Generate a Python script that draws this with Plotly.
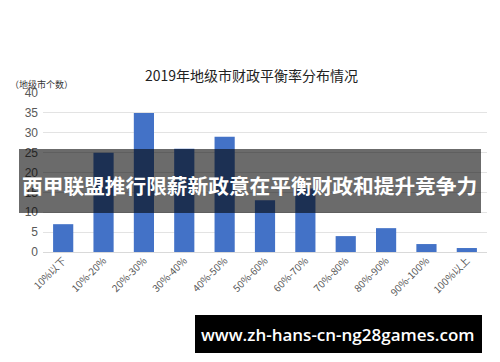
import plotly.graph_objects as go

categories = ["10%以下", "10%-20%", "20%-30%", "30%-40%", "40%-50%", "50%-60%",
              "60%-70%", "70%-80%", "80%-90%", "90%-100%", "100%以上"]
counts = [7, 25, 35, 26, 29, 13, 16, 4, 6, 2, 1]
y_ticks = [0, 5, 10, 15, 20, 25, 30, 35, 40]

title_text = "2019年地级市财政平衡率分布情况"
y_label = "（地级市个数）"
overlay_text = "西甲联盟推行限薪新政意在平衡财政和提升竞争力"
footer_text = "www.zh-hans-cn-ng28games.com"

# page body has an 8px margin; work in reference pixels and shift
OFF = 8
W, H = 500 - OFF, 362 - OFF
L, R, T, B = 43 - OFF, 13, 93 - OFF, 110
PW, PH = W - L - R, H - T - B

def px(x):
    return (x - OFF - L) / PW

def py(y):
    return (H - B - (y - OFF)) / PH

fig = go.Figure(go.Bar(
    x=categories, y=counts,
    marker=dict(color="#4372c7", line=dict(width=0)),
))

fig.update_layout(
    width=W, height=H,
    margin=dict(l=L, r=R, t=T, b=B, autoexpand=False),
    paper_bgcolor="white", plot_bgcolor="white",
    bargap=0.5, showlegend=False,
    font=dict(family="Noto Sans CJK SC, sans-serif"),
    xaxis=dict(tickangle=-45, tickfont=dict(size=10, color="#595959",
               family="Noto Sans CJK SC"), showgrid=False, showline=False,
               ticks="", automargin=False),
    yaxis=dict(range=[0, 40], tickvals=y_ticks, showgrid=True,
               gridcolor="#e3e3e3", gridwidth=1, zeroline=True,
               zerolinecolor="#d9d9d9", zerolinewidth=1,
               tickfont=dict(size=12, color="#595959",
                             family="Liberation Sans, Arial"), ticks="",
               ticklabelstandoff=4, automargin=False),
    shapes=[
        dict(type="rect", xref="paper", yref="paper",
             x0=px(19), x1=px(481), y0=py(213), y1=py(149),
             fillcolor="rgba(0,0,0,0.58)", line=dict(width=0), layer="above"),
        dict(type="rect", xref="paper", yref="paper",
             x0=px(195), x1=px(482), y0=py(353), y1=py(315),
             fillcolor="black", line=dict(width=0), layer="above"),
    ],
    annotations=[
        dict(text=title_text, xref="paper", yref="paper", x=px(251), y=py(75),
             showarrow=False, font=dict(size=14, color="#222222",
             family="Noto Sans CJK SC"), xanchor="center", yanchor="middle"),
        dict(text=y_label, xref="paper", yref="paper", x=px(8), y=py(84),
             showarrow=False, font=dict(size=9, color="#333333",
             family="Noto Sans CJK SC"), xanchor="left", yanchor="middle"),
        dict(text="<b>" + overlay_text + "</b>", xref="paper", yref="paper",
             x=px(249), y=py(185), showarrow=False,
             font=dict(size=20.7, color="white", family="Noto Sans CJK SC"),
             xanchor="center", yanchor="middle"),
        dict(text=footer_text, xref="paper", yref="paper",
             x=px(338), y=py(334), showarrow=False,
             font=dict(size=17, color="white", family="Open Sans", weight=600),
             xanchor="center", yanchor="middle"),
    ],
)

fig.write_html("out.html")
